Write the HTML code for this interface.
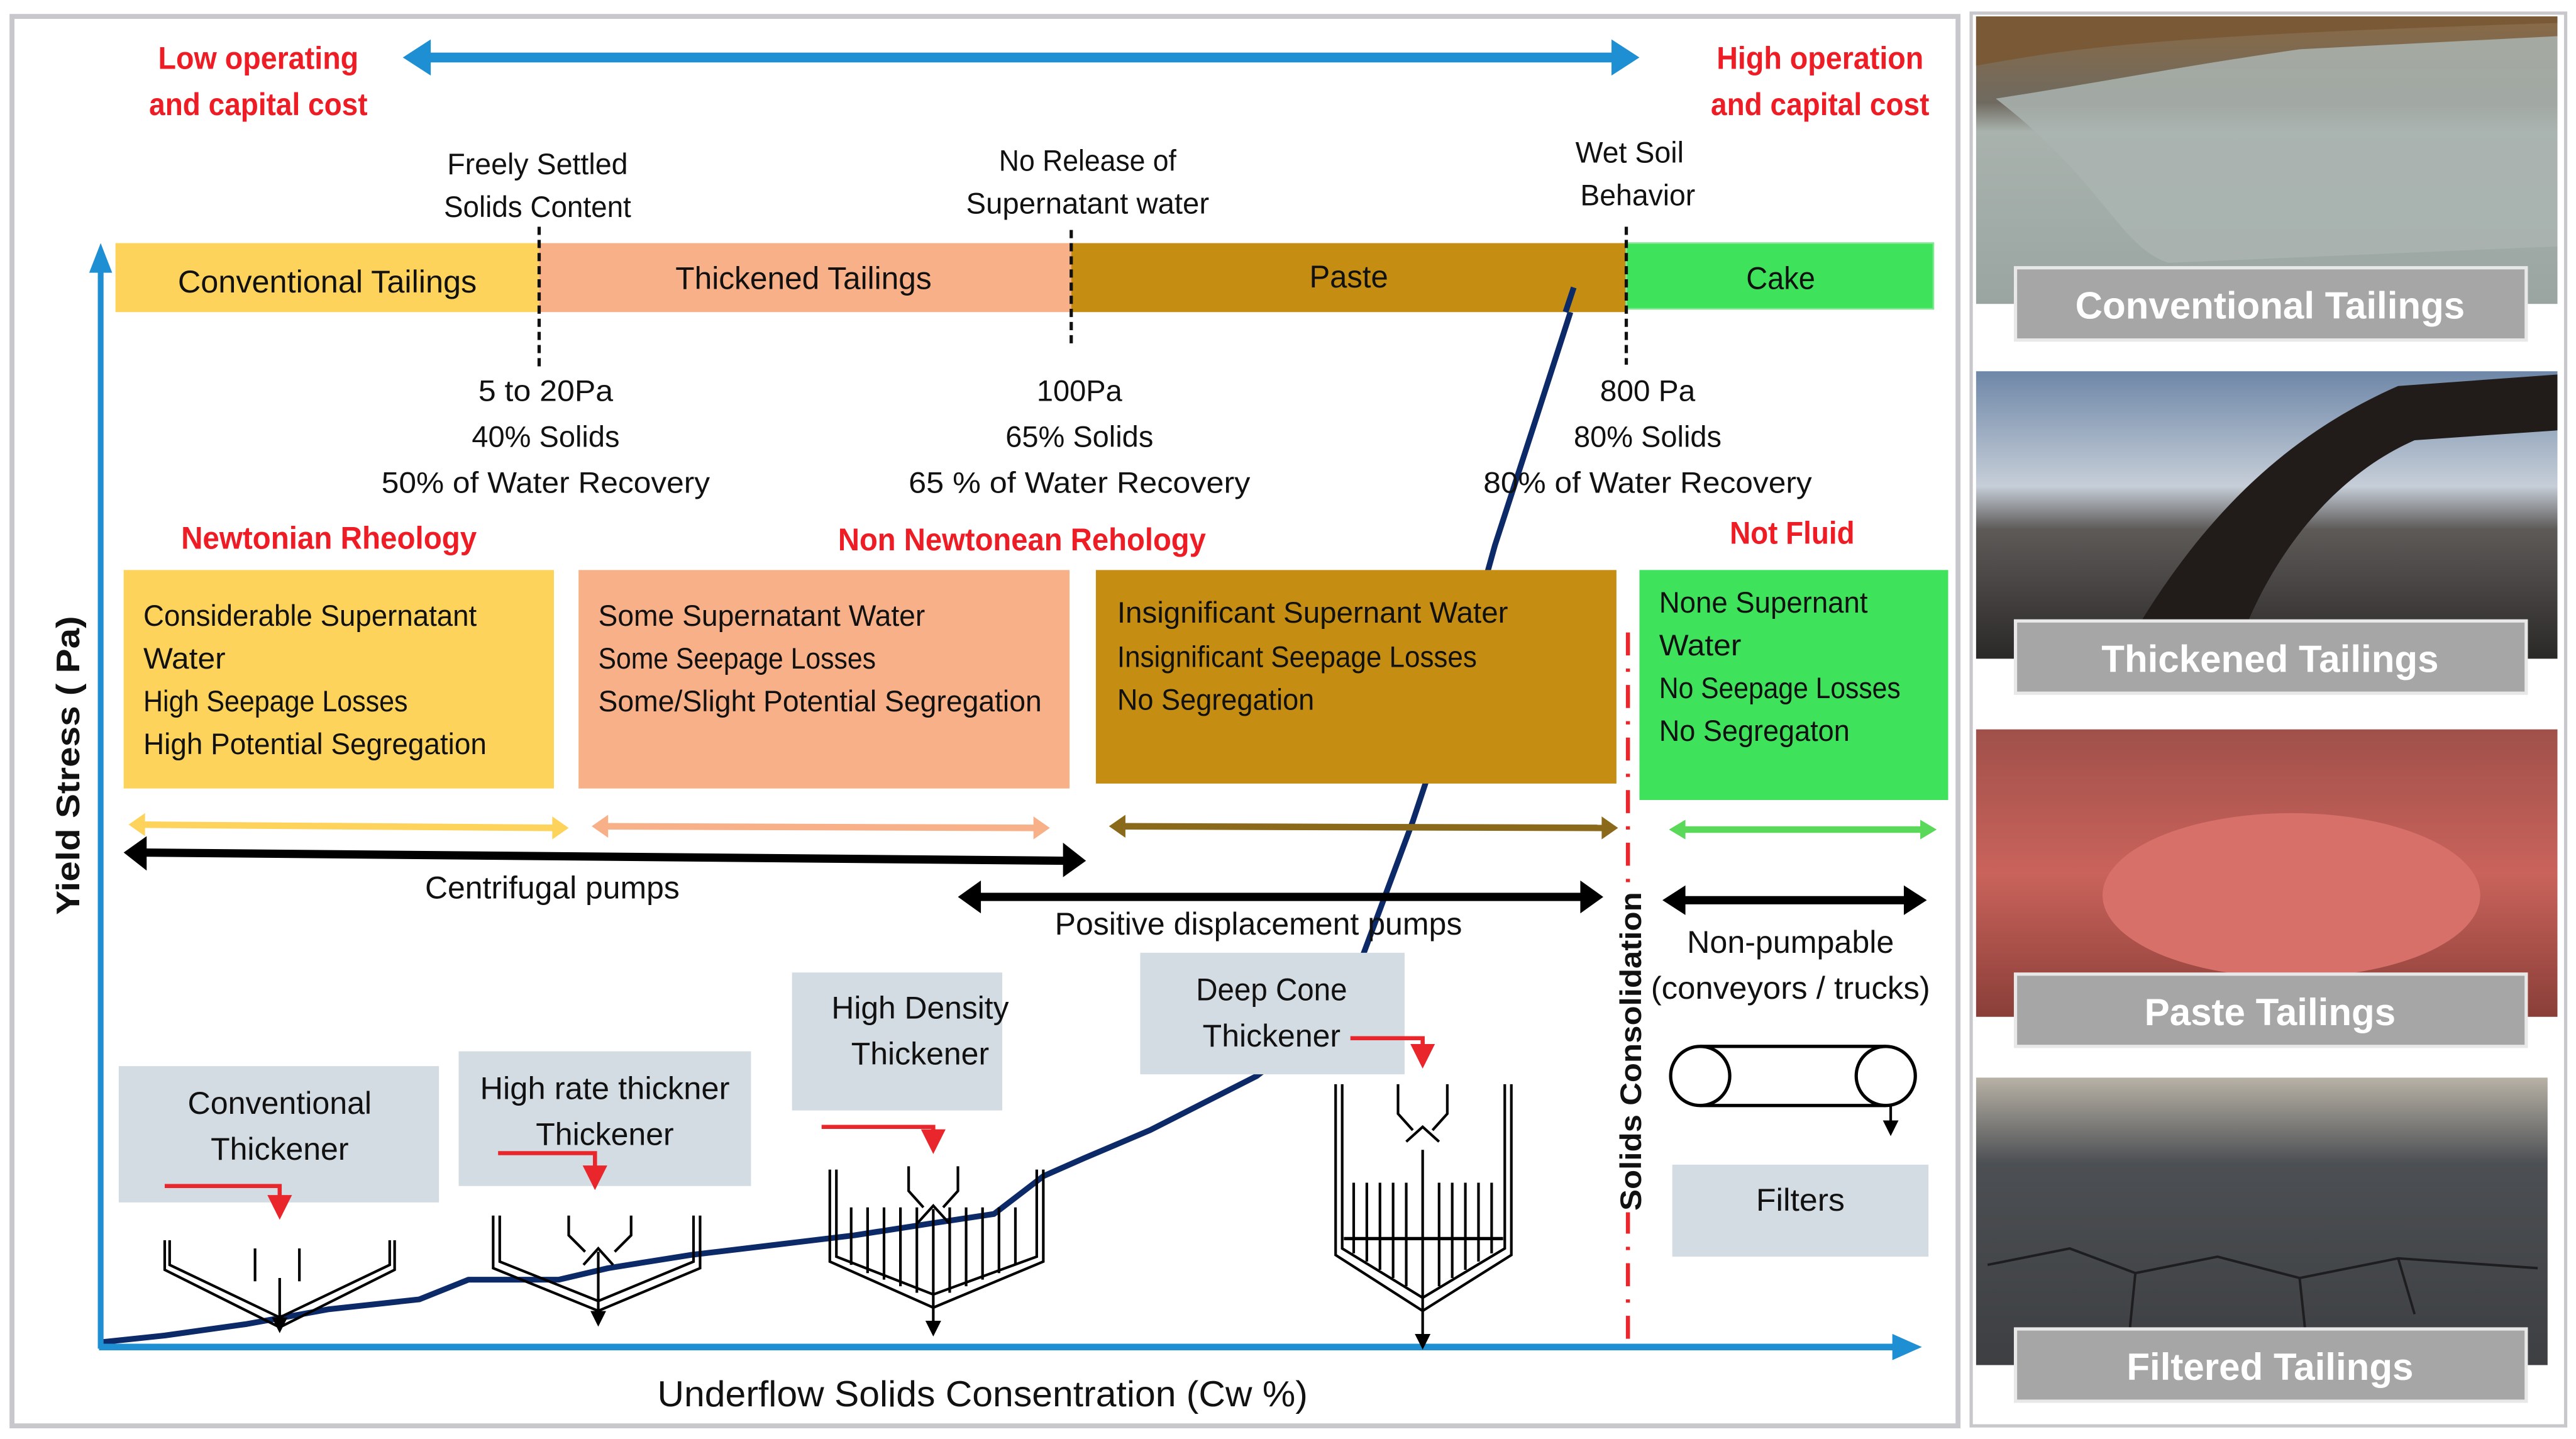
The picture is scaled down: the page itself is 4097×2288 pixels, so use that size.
<!DOCTYPE html>
<html><head><meta charset="utf-8"><style>
html,body{margin:0;padding:0;background:#fff;}
svg{display:block}
text{font-family:"Liberation Sans",sans-serif;}
.b{font-weight:bold}
</style></head><body>
<svg width="4097" height="2288" viewBox="0 0 1568 876" xmlns="http://www.w3.org/2000/svg">
<defs>
<linearGradient id="p1" x1="0" y1="0" x2="0" y2="1"><stop offset="0" stop-color="#8a6a45"/><stop offset="0.3" stop-color="#6f6a60"/><stop offset="0.4" stop-color="#a9b2ad"/><stop offset="1" stop-color="#9aa5a2"/></linearGradient>
<linearGradient id="p2" x1="0" y1="0" x2="0" y2="1"><stop offset="0" stop-color="#6e87a8"/><stop offset="0.4" stop-color="#c6ced8"/><stop offset="0.55" stop-color="#5d5a58"/><stop offset="1" stop-color="#2b2928"/></linearGradient>
<linearGradient id="p3" x1="0" y1="0" x2="0" y2="1"><stop offset="0" stop-color="#a0504a"/><stop offset="0.5" stop-color="#c9635b"/><stop offset="1" stop-color="#8a3e38"/></linearGradient>
<linearGradient id="p4" x1="0" y1="0" x2="0" y2="1"><stop offset="0" stop-color="#b8b2a6"/><stop offset="0.3" stop-color="#4c4f53"/><stop offset="1" stop-color="#3d3f42"/></linearGradient>
<marker id="ak" markerWidth="6" markerHeight="6" refX="5" refY="3" orient="auto"><path d="M0,0 L6,3 L0,6 z" fill="#000"/></marker>
<marker id="ar" markerWidth="6" markerHeight="6" refX="5" refY="3" orient="auto"><path d="M0,0 L6,3 L0,6 z" fill="#e8262b"/></marker>
</defs>
<rect width="1568" height="876" fill="#fff"/>
<!-- panels -->
<rect x="7" y="10" width="1185" height="858" fill="#fff" stroke="#c8c8cc" stroke-width="3"/>
<rect x="1200" y="8" width="362" height="860" fill="#fff" stroke="#c8c8cc" stroke-width="2"/>
<!-- photos -->
<rect x="1203" y="10" width="354" height="175" fill="url(#p1)"/>
<path d="M1203,40 C1260,30 1300,22 1557,14 L1557,10 L1203,10 z" fill="#7a5a36"/>
<path d="M1215,60 C1280,50 1330,40 1400,30 L1557,22 L1557,150 L1320,160 C1290,150 1280,110 1215,60 z" fill="#aab4b0" opacity="0.85"/>
<rect x="1227" y="163" width="311" height="44" fill="#a6a6a6" stroke="#e8e8e8" stroke-width="2"/>
<rect x="1203" y="226" width="354" height="175" fill="url(#p2)"/>
<path d="M1290,401 C1330,330 1380,270 1460,235 L1557,228 L1557,262 L1470,268 C1420,290 1380,340 1360,401 z" fill="#211c1a"/>
<rect x="1227" y="378" width="311" height="44" fill="#a6a6a6" stroke="#e8e8e8" stroke-width="2"/>
<rect x="1203" y="444" width="354" height="175" fill="url(#p3)"/>
<ellipse cx="1395" cy="545" rx="115" ry="50" fill="#d8706a"/>
<rect x="1227" y="593" width="311" height="44" fill="#a6a6a6" stroke="#e8e8e8" stroke-width="2"/>
<rect x="1203" y="656" width="348" height="175" fill="url(#p4)"/>
<g stroke="#1e1e20" stroke-width="1.5" fill="none">
<path d="M1210,770 L1260,760 L1300,775 L1350,765 L1400,778 L1460,766 L1545,772"/>
<path d="M1300,775 L1295,825 M1400,778 L1405,825 M1460,766 L1470,800"/>
</g>
<rect x="1227" y="809" width="311" height="44" fill="#a6a6a6" stroke="#e8e8e8" stroke-width="2"/>
<g fill="#fff" class="b" font-size="23" text-anchor="middle">
<text x="1382" y="194">Conventional Tailings</text>
<text x="1382" y="409">Thickened Tailings</text>
<text x="1382" y="624">Paste Tailings</text>
<text x="1382" y="840">Filtered Tailings</text>
</g>
<!-- curve (behind boxes) -->
<polyline fill="none" stroke="#0d2a68" stroke-width="3.5" stroke-linejoin="round" points="62,817 100,813 150,806 200,797 255,791 285,779 340,779 370,772 420,764 470,758 520,752 565,745 605,739 635,716 660,705 700,688 765,655 800,628 822,602 860,500 880,440 910,332 935,255 956,190"/>
<!-- top arrow -->
<line x1="255" y1="35" x2="988" y2="35" stroke="#1f8fd3" stroke-width="6"/>
<path d="M245,35 L262,24 L262,46 z M998,35 L981,24 L981,46 z" fill="#1f8fd3"/>
<g fill="#ee1c24" class="b" font-size="19" text-anchor="middle">
<text x="157" y="42" textLength="122" lengthAdjust="spacingAndGlyphs">Low operating</text>
<text x="157" y="70" textLength="133" lengthAdjust="spacingAndGlyphs">and capital cost</text>
<text x="1108" y="42" textLength="126" lengthAdjust="spacingAndGlyphs">High operation</text>
<text x="1108" y="70" textLength="133" lengthAdjust="spacingAndGlyphs">and capital cost</text>
<text x="200" y="334" textLength="180" lengthAdjust="spacingAndGlyphs">Newtonian Rheology</text>
<text x="622" y="335" textLength="224" lengthAdjust="spacingAndGlyphs">Non Newtonean Rehology</text>
<text x="1091" y="331" textLength="76" lengthAdjust="spacingAndGlyphs">Not Fluid</text>
</g>
<g fill="#111" font-size="18" text-anchor="middle">
<text x="327" y="106" textLength="110" lengthAdjust="spacingAndGlyphs">Freely Settled</text>
<text x="327" y="132" textLength="114" lengthAdjust="spacingAndGlyphs">Solids Content</text>
<text x="662" y="104" textLength="108" lengthAdjust="spacingAndGlyphs">No Release of</text>
<text x="662" y="130" textLength="148" lengthAdjust="spacingAndGlyphs">Supernatant water</text>
<text x="992" y="99" textLength="66" lengthAdjust="spacingAndGlyphs">Wet Soil</text>
<text x="997" y="125" textLength="70" lengthAdjust="spacingAndGlyphs">Behavior</text>
<text x="332" y="244" textLength="82" lengthAdjust="spacingAndGlyphs">5 to 20Pa</text>
<text x="332" y="272" textLength="90" lengthAdjust="spacingAndGlyphs">40% Solids</text>
<text x="332" y="300" textLength="200" lengthAdjust="spacingAndGlyphs">50% of Water Recovery</text>
<text x="657" y="244" textLength="52" lengthAdjust="spacingAndGlyphs">100Pa</text>
<text x="657" y="272" textLength="90" lengthAdjust="spacingAndGlyphs">65% Solids</text>
<text x="657" y="300" textLength="208" lengthAdjust="spacingAndGlyphs">65 %  of Water Recovery</text>
<text x="1003" y="244" textLength="58" lengthAdjust="spacingAndGlyphs">800 Pa</text>
<text x="1003" y="272" textLength="90" lengthAdjust="spacingAndGlyphs">80% Solids</text>
<text x="1003" y="300" textLength="200" lengthAdjust="spacingAndGlyphs">80% of Water Recovery</text>
</g>
<!-- bar -->
<rect x="70" y="148" width="258" height="42" fill="#fdd35c"/>
<rect x="328" y="148" width="324" height="42" fill="#f8b088"/>
<rect x="652" y="148" width="338" height="42" fill="#c58e12"/>
<rect x="990" y="148" width="187" height="40" fill="#3ee35b" stroke="#7fe890" stroke-width="1"/>
<line x1="953" y1="190" x2="958" y2="175" stroke="#0d2a68" stroke-width="3.5"/>
<g fill="#111" font-size="19" text-anchor="middle">
<text x="199" y="178" textLength="182" lengthAdjust="spacingAndGlyphs">Conventional Tailings</text>
<text x="489" y="176" textLength="156" lengthAdjust="spacingAndGlyphs">Thickened Tailings</text>
<text x="821" y="175" textLength="48" lengthAdjust="spacingAndGlyphs">Paste</text>
<text x="1084" y="176" textLength="42" lengthAdjust="spacingAndGlyphs">Cake</text>
</g>
<g stroke="#111" stroke-width="2" stroke-dasharray="5,3">
<line x1="328" y1="138" x2="328" y2="226"/>
<line x1="652" y1="140" x2="652" y2="212"/>
<line x1="990" y1="138" x2="990" y2="222"/>
</g>
<!-- boxes -->
<rect x="75" y="347" width="262" height="133" fill="#fdd35c"/>
<rect x="352" y="347" width="299" height="133" fill="#f8b088"/>
<rect x="667" y="347" width="317" height="130" fill="#c58e12"/>
<rect x="998" y="347" width="188" height="140" fill="#3ee35b"/>
<g fill="#111" font-size="18">
<text x="87" y="381" textLength="203" lengthAdjust="spacingAndGlyphs">Considerable Supernatant</text>
<text x="87" y="407" textLength="50" lengthAdjust="spacingAndGlyphs">Water</text>
<text x="87" y="433" textLength="161" lengthAdjust="spacingAndGlyphs">High Seepage Losses</text>
<text x="87" y="459" textLength="209" lengthAdjust="spacingAndGlyphs">High Potential Segregation</text>
<text x="364" y="381" textLength="199" lengthAdjust="spacingAndGlyphs">Some Supernatant Water</text>
<text x="364" y="407" textLength="169" lengthAdjust="spacingAndGlyphs">Some Seepage Losses</text>
<text x="364" y="433" textLength="270" lengthAdjust="spacingAndGlyphs">Some/Slight Potential Segregation</text>
<text x="680" y="379" textLength="238" lengthAdjust="spacingAndGlyphs">Insignificant Supernant  Water</text>
<text x="680" y="406" textLength="219" lengthAdjust="spacingAndGlyphs">Insignificant Seepage Losses</text>
<text x="680" y="432" textLength="120" lengthAdjust="spacingAndGlyphs">No Segregation</text>
<text x="1010" y="373" textLength="127" lengthAdjust="spacingAndGlyphs">None Supernant</text>
<text x="1010" y="399" textLength="50" lengthAdjust="spacingAndGlyphs">Water</text>
<text x="1010" y="425" textLength="147" lengthAdjust="spacingAndGlyphs">No Seepage Losses</text>
<text x="1010" y="451" textLength="116" lengthAdjust="spacingAndGlyphs">No Segregaton</text>
</g>
<!-- colored arrows -->
<g stroke-width="4">
<line x1="84" y1="502" x2="340" y2="504" stroke="#fdd35c"/>
<line x1="366" y1="503" x2="633" y2="504" stroke="#f8b088"/>
<line x1="681" y1="503" x2="978" y2="504" stroke="#8a6a1a"/>
<line x1="1022" y1="505" x2="1172" y2="505" stroke="#5ad85a"/>
</g>
<path d="M78,502 L88,495 L88,509z M346,504 L336,497 L336,511z" fill="#fdd35c"/>
<path d="M360,503 L370,496 L370,510z M639,504 L629,497 L629,511z" fill="#f8b088"/>
<path d="M675,503 L685,496 L685,510z M985,504 L975,497 L975,511z" fill="#8a6a1a"/>
<path d="M1016,505 L1026,499 L1026,511z M1179,505 L1169,499 L1169,511z" fill="#5ad85a"/>
<!-- black arrows -->
<g stroke="#000" stroke-width="5">
<line x1="86" y1="519" x2="650" y2="524"/>
<line x1="594" y1="546" x2="965" y2="546"/>
<line x1="1023" y1="548" x2="1162" y2="548"/>
</g>
<path d="M75,519 L89,509 L89,530z M661,524 L647,513 L647,534z M583,546 L597,536 L597,556z M976,546 L962,536 L962,556z M1012,548 L1026,539 L1026,557z M1173,548 L1159,539 L1159,557z" fill="#000"/>
<g fill="#111" font-size="19" text-anchor="middle">
<text x="336" y="547" textLength="155" lengthAdjust="spacingAndGlyphs">Centrifugal pumps</text>
<text x="766" y="569" textLength="248" lengthAdjust="spacingAndGlyphs">Positive displacement pumps</text>
<text x="1090" y="580" textLength="126" lengthAdjust="spacingAndGlyphs">Non-pumpable</text>
<text x="1090" y="608" textLength="170" lengthAdjust="spacingAndGlyphs">(conveyors / trucks)</text>
</g>
<!-- red dashdot -->
<line x1="991" y1="385" x2="991" y2="815" stroke="#e8262b" stroke-width="2.5" stroke-dasharray="14,8,2,8"/>
<rect x="980" y="540" width="24" height="198" fill="#fff"/>
<text transform="translate(999,640) rotate(-90)" text-anchor="middle" font-size="18" class="b" fill="#111" textLength="194" lengthAdjust="spacingAndGlyphs">Solids  Consolidation</text>
<!-- thickener label boxes -->
<rect x="72" y="649" width="195" height="83" fill="#d3dce3"/>
<rect x="279" y="640" width="178" height="82" fill="#d3dce3"/>
<rect x="482" y="592" width="128" height="84" fill="#d3dce3"/>
<rect x="694" y="580" width="161" height="74" fill="#d3dce3"/>
<rect x="1018" y="709" width="156" height="56" fill="#d3dce3"/>
<g fill="#111" font-size="19" text-anchor="middle">
<text x="170" y="678" textLength="112" lengthAdjust="spacingAndGlyphs">Conventional</text>
<text x="170" y="706" textLength="84" lengthAdjust="spacingAndGlyphs">Thickener</text>
<text x="368" y="669" textLength="152" lengthAdjust="spacingAndGlyphs">High rate thickner</text>
<text x="368" y="697" textLength="84" lengthAdjust="spacingAndGlyphs">Thickener</text>
<text x="560" y="620" textLength="108" lengthAdjust="spacingAndGlyphs">High Density</text>
<text x="560" y="648" textLength="84" lengthAdjust="spacingAndGlyphs">Thickener</text>
<text x="774" y="609" textLength="92" lengthAdjust="spacingAndGlyphs">Deep Cone</text>
<text x="774" y="637" textLength="84" lengthAdjust="spacingAndGlyphs">Thickener</text>
<text x="1096" y="737" textLength="54" lengthAdjust="spacingAndGlyphs">Filters</text>
</g>
<!-- axes -->
<line x1="61" y1="160" x2="61" y2="821" stroke="#1f8fd3" stroke-width="3.5"/>
<path d="M61,148 L54,166 L68,166z" fill="#1f8fd3"/>
<line x1="60" y1="820" x2="1156" y2="820" stroke="#1f8fd3" stroke-width="4"/>
<path d="M1170,820 L1152,812 L1152,828z" fill="#1f8fd3"/>
<text transform="translate(48,466) rotate(-90)" text-anchor="middle" font-size="20" class="b" fill="#111" textLength="182" lengthAdjust="spacingAndGlyphs">Yield Stress ( Pa)</text>
<text x="598" y="856" text-anchor="middle" font-size="22" fill="#111" textLength="396" lengthAdjust="spacingAndGlyphs">Underflow  Solids Consentration (Cw %)</text>
<!-- red feed arrows -->
<g fill="none" stroke="#e8262b" stroke-width="2.5">
<polyline points="100,722 170,722 170,740" marker-end="url(#ar)"/>
<polyline points="303,702 362,702 362,722" marker-end="url(#ar)"/>
<polyline points="500,686 568,686 568,700" marker-end="url(#ar)"/>
<polyline points="822,632 866,632 866,648" marker-end="url(#ar)"/>
</g>
<!-- thickeners -->
<g fill="none" stroke="#000" stroke-width="1.6">
<path d="M103,755 V770 L170,802 L237,770 V755"/>
<path d="M100,755 V773 L170,808 L240,773 V755"/>
<line x1="155" y1="760" x2="155" y2="780"/><line x1="182" y1="760" x2="182" y2="780"/>
<line x1="170" y1="778" x2="170" y2="810" marker-end="url(#ak)"/>
<path d="M304,740 V768 L364,792 L422,768 V740"/>
<path d="M300,740 V772 L364,798 L426,772 V740"/>
<path d="M346,740 V752 L356,762 M384,740 V752 L374,762 M355,770 L364,760 L373,770"/>
<line x1="364" y1="762" x2="364" y2="806" marker-end="url(#ak)"/>
<path d="M509,712 V765 L568,788 L631,765 V712"/>
<path d="M505,712 V768 L568,796 L635,768 V712"/>
<path d="M553,710 V725 L562,735 M583,710 V725 L574,735 M558,745 L568,734 L578,745"/>
<g>
<line x1="518" y1="735" x2="518" y2="770"/><line x1="528" y1="735" x2="528" y2="775"/><line x1="538" y1="735" x2="538" y2="779"/><line x1="548" y1="735" x2="548" y2="783"/><line x1="558" y1="735" x2="558" y2="787"/><line x1="578" y1="735" x2="578" y2="787"/><line x1="588" y1="735" x2="588" y2="783"/><line x1="598" y1="735" x2="598" y2="779"/><line x1="608" y1="735" x2="608" y2="775"/><line x1="618" y1="735" x2="618" y2="770"/>
</g>
<line x1="568" y1="736" x2="568" y2="812" marker-end="url(#ak)"/>
<path d="M817,660 V760 L866,790 L916,760 V660"/>
<path d="M813,660 V764 L866,798 L920,764 V660"/>
<path d="M851,660 V678 L860,688 M881,660 V678 L872,688 M856,695 L866,686 L876,695"/>
<line x1="818" y1="754" x2="915" y2="754" stroke-width="2"/>
<g>
<line x1="824" y1="720" x2="824" y2="763"/><line x1="832" y1="720" x2="832" y2="768"/><line x1="840" y1="720" x2="840" y2="773"/><line x1="848" y1="720" x2="848" y2="778"/><line x1="856" y1="720" x2="856" y2="783"/><line x1="876" y1="720" x2="876" y2="783"/><line x1="884" y1="720" x2="884" y2="778"/><line x1="892" y1="720" x2="892" y2="773"/><line x1="900" y1="720" x2="900" y2="768"/><line x1="908" y1="720" x2="908" y2="763"/>
</g>
<line x1="866" y1="700" x2="866" y2="820" marker-end="url(#ak)"/>
<path d="M1035,637 H1148 M1035,673 H1148" stroke-width="2"/>
<ellipse cx="1035" cy="655" rx="18" ry="18" stroke-width="2"/>
<ellipse cx="1148" cy="655" rx="18" ry="18" stroke-width="2"/>
<line x1="1151" y1="673" x2="1151" y2="690" marker-end="url(#ak)"/>
</g>
</svg>
</body></html>
